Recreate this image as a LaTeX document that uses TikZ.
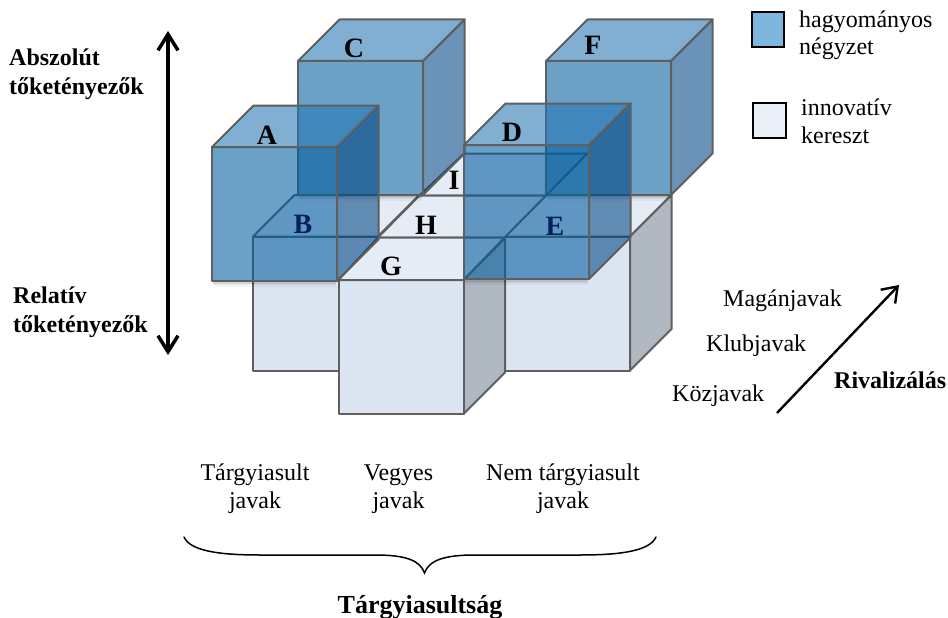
\documentclass[tikz,border=0pt]{standalone}
\usepackage{fontspec}
\setmainfont{Liberation Serif}
\usetikzlibrary{arrows.meta}
\definecolor{edgegray}{RGB}{95,95,95}
\definecolor{bluefront}{RGB}{0,91,158}
\definecolor{bluetop}{RGB}{36,117,178}
\definecolor{blueside}{RGB}{0,69,131}
\definecolor{palefront}{RGB}{220,230,242}
\definecolor{paletop}{RGB}{229,236,245}
\definecolor{paleside}{RGB}{176,184,194}
\definecolor{navy}{RGB}{0,32,96}
\definecolor{legblue}{RGB}{127,182,224}
\definecolor{legpale}{RGB}{234,240,248}
\tikzset{
  face/.style={draw=edgegray,line width=2pt,line join=round},
  bfront/.style={face,fill=bluefront,fill opacity=.58},
  btop/.style={face,fill=bluetop,fill opacity=.58},
  bside/.style={face,fill=blueside,fill opacity=.58},
  pfront/.style={face,fill=palefront},
  ptop/.style={face,fill=paletop},
  pside/.style={face,fill=paleside},
  letter/.style={font=\fontsize{28}{28}\selectfont\bfseries,inner sep=0pt,anchor=base},
  body/.style={font=\fontsize{24}{27.8}\selectfont,inner sep=0pt},
  bold/.style={font=\fontsize{24}{29}\selectfont\bfseries,inner sep=0pt},
  legbox/.style={draw=black,line width=2pt},
  bigarrow/.style={line width=4pt,{Straight Barb[length=16pt,width=20pt,line width=3.5pt]}-{Straight Barb[length=16pt,width=20pt,line width=3.5pt]}},
  thinarrow/.style={line width=2.4pt,-{Straight Barb[length=14pt,width=20pt,line width=2.4pt]}},
  shadowline/.style={line width=1.5pt,draw=black}
}
\newcommand{\palecube}[3]{%
  \draw[ptop] (#1,#2) -- ++(41.5,-41.5) -- ++(125,0) -- ++(-41.5,41.5) -- cycle;
  \draw[pside] (#1+125,#2) -- ++(41.5,-41.5) -- ++(0,#3) -- ++(-41.5,41.5) -- cycle;
  \draw[pfront] (#1,#2) rectangle ++(125,#3);}
\newcommand{\bluecube}[3]{%
  \foreach \sh/\op in {1.8/.16,3.3/.09,4.8/.04}{\draw[shadowline,draw opacity=\op] (#1+1,#2+#3+\sh) -- ++(123,0);}
  \draw[btop] (#1,#2) -- ++(41.5,-41.5) -- ++(125,0) -- ++(-41.5,41.5) -- cycle;
  \draw[bside] (#1+125,#2) -- ++(41.5,-41.5) -- ++(0,#3) -- ++(-41.5,41.5) -- cycle;
  \draw[bfront] (#1,#2) rectangle ++(125,#3);}
\begin{document}
\begin{tikzpicture}[x=1pt,y=-1pt]
\useasboundingbox (0,0) rectangle (948,618);
% pale cross
\palecube{253}{236.5}{134}
\palecube{505}{236.5}{134}
\draw[ptop] (419.5,195.5) -- (464,153.5) -- (587.5,153.5) -- (546,195.5) -- cycle;
\draw[ptop] (378,237.5) -- (419.5,195.5) -- (546,195.5) -- (504.5,237.5) -- cycle;
\palecube{338.5}{280}{134}
\draw[ptop] (338.5,280) -- (378,237.5) -- (504.5,237.5) -- (463.5,280) -- cycle;
% blue cubes
\bluecube{298}{61}{134}
\bluecube{546}{61}{134}
\bluecube{212}{147}{134}
\bluecube{464}{145}{134}
% letters
\node[letter] (lc) at (354,58) {C};
\node[letter] (lf) at (593,55) {F};
\node[letter] (la) at (267,144) {A};
\node[letter] (ld) at (512,141) {D};
\node[letter,text=navy] (lb) at (303,233) {B};
\node[letter,text=navy] (le) at (555,235) {E};
\node[letter] (li) at (454,189) {I};
\node[letter] (lh) at (426,234) {H};
\node[letter] (lg) at (391,275) {G};
% left side
\node[bold,anchor=base west,align=left] (abs) at (9,95) {Abszolút\\tőketényezők};
\node[bold,anchor=base west,align=left] (rel) at (13,332) {Relatív\\tőketényezők};
\coordinate (vtop) at (168,31);
\coordinate (vbot) at (168,355);
\draw[bigarrow] (vtop) -- (vbot);
% legend
\node[legbox,fill=legblue,minimum width=32pt,minimum height=35pt,inner sep=0pt] (lb1) at (767.5,30) {};
\node[legbox,fill=legpale,minimum width=33pt,minimum height=35pt,inner sep=0pt] (lb2) at (769,120.5) {};
\node[body,anchor=base west,align=left] (t1) at (799,55) {hagyományos\\négyzet};
\node[body,anchor=base west,align=left] (t2) at (801,143) {innovatív\\kereszt};
% rivalry
\node[body,anchor=base west] (m) at (723,306) {Magánjavak};
\node[body,anchor=base west] (k) at (706,351) {Klubjavak};
\node[body,anchor=base west] (z) at (672,401) {Közjavak};
\node[bold,anchor=base west] (r) at (834,388) {Rivalizálás};
\coordinate (r0) at (777,413);
\coordinate (r1) at (899,285);
\draw[thinarrow] (r0) -- (r1);
% bottom
\node[body,anchor=base,align=center] (x1) at (255,508) {Tárgyiasult\\javak};
\node[body,anchor=base,align=center] (x2) at (398.5,508) {Vegyes\\javak};
\node[body,anchor=base,align=center] (x3) at (563,508) {Nem tárgyiasult\\javak};
\coordinate (bl) at (184,537);
\coordinate (bm) at (424.5,573);
\coordinate (br) at (656,537);
\draw[line width=1.5pt,line cap=round] (bl) .. controls (190,550) and (215,555) .. (260,555) -- (375,555) .. controls (405,555) and (420,560) .. (bm) .. controls (429,560) and (445,555) .. (475,555) -- (580,555) .. controls (625,555) and (650,550) .. (br);
\node[font=\fontsize{26}{30}\selectfont\bfseries,inner sep=0pt,anchor=base] (ts) at (420,613) {Tárgyiasultság};
\end{tikzpicture}
\end{document}
